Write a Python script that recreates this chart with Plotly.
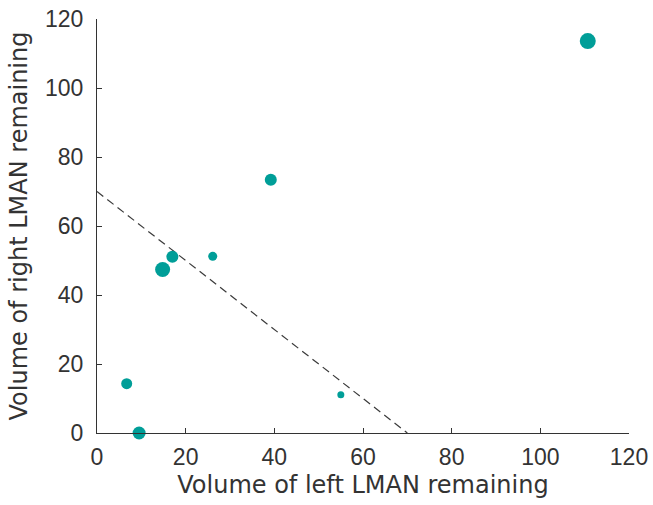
import plotly.graph_objects as go

# Data
left_volume = [110.7, 39.2, 17.0, 14.8, 26.1, 55.0, 6.7, 9.5]
right_volume = [113.6, 73.4, 51.1, 47.4, 51.2, 11.1, 14.3, 0.0]
marker_px = [16, 12, 12, 15, 9, 7, 11, 13]

line_x = [0, 70]
line_y = [70, 0]

axis_ticks = [0, 20, 40, 60, 80, 100, 120]

teal = "#009E98"
text_color = "#333333"

fig = go.Figure()
fig.add_trace(go.Scatter(
    x=line_x, y=line_y, mode="lines",
    line=dict(color="#3a3a3a", width=1.2, dash="8px,5px"),
    hoverinfo="skip", showlegend=False, cliponaxis=False,
))
fig.add_trace(go.Scatter(
    x=left_volume, y=right_volume, mode="markers",
    marker=dict(color=teal, size=marker_px, opacity=1, line=dict(width=0)),
    showlegend=False, cliponaxis=False,
))

tick_font = "Liberation Sans, Arial, sans-serif"
title_font = "DejaVu Sans, sans-serif"
axis_common = dict(
    range=[0, 120], tickvals=axis_ticks, showgrid=False, zeroline=False,
    showline=True, linecolor="#333333", linewidth=1.2,
    ticks="inside", ticklen=5, tickwidth=1, tickcolor="#333333",
    tickfont=dict(family=tick_font, size=23, color=text_color),
    automargin=False,
)

fig.update_layout(
    width=653, height=505,
    margin=dict(l=97, r=24, t=19, b=72),
    paper_bgcolor="white", plot_bgcolor="white",
    xaxis=dict(**axis_common, ticklabelstandoff=3,
               title=dict(text="Volume of left LMAN remaining",
                          font=dict(family=title_font, size=24, color=text_color),
                          standoff=7)),
    yaxis=dict(**axis_common, ticklabelstandoff=8,
               title=dict(text="Volume of right LMAN remaining",
                          font=dict(family=title_font, size=24, color=text_color),
                          standoff=10)),
)

fig.write_html("out.html", config={"displayModeBar": False},
               post_script="document.body.style.margin='0';")
